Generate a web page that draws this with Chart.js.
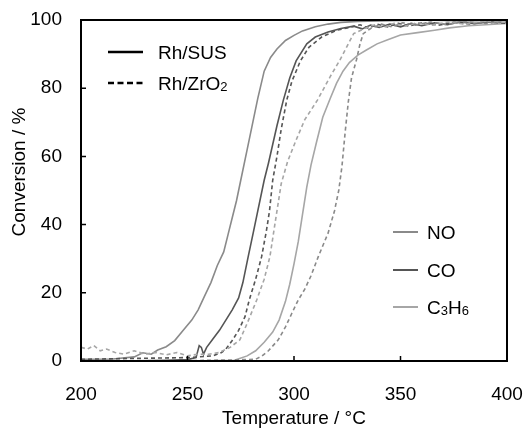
<!DOCTYPE html>
<html lang="en">
<head>
<meta charset="UTF-8">
<title>Conversion vs Temperature</title>
<script src="https://cdn.jsdelivr.net/npm/chart.js"></script>
<style>
  body { margin: 0; background: #fff; }
  canvas { display: block; }
</style>
</head>
<body>
<canvas id="convChart" width="525" height="428"></canvas>
<script>
  // conversion (%) vs temperature (°C)
  const noSusT = [200, 215, 225, 229, 233, 236, 240, 244, 248, 252, 255, 258, 261, 264, 267, 269, 271, 273, 275, 278, 281, 283, 286, 289, 292, 296, 300, 304, 310, 316, 322, 330, 345, 360, 380, 400];
  const noSusY = [0.5, 0.6, 1.2, 2.4, 2, 3.2, 4.2, 6, 9, 12, 15, 19, 23, 28, 32, 37, 42, 47, 53, 62, 71, 77, 85, 89, 91.5, 94, 95.5, 96.8, 98, 98.8, 99.3, 99.6, 99.8, 100, 99.7, 100];

  const coSusT = [200, 220, 240, 250, 254, 255.5, 256.5, 257.5, 259, 262, 265, 268, 271, 274, 276, 278.5, 281, 283, 286, 288, 290, 292, 295, 298, 301, 306, 310, 316, 322, 328, 332, 336, 340, 345, 350, 355, 360, 366, 372, 378, 385, 392, 400];
  const coSusY = [0, 0, 0.2, 0.4, 1, 4.5, 4, 2, 4, 6.5, 9, 12, 15, 18.5, 23, 30.6, 38, 44, 53, 58, 63.5, 69, 76.5, 83, 88, 93, 95, 96.5, 97.5, 98.2, 97.4, 98.5, 97.8, 98.8, 98, 99, 98.3, 99.2, 98.6, 99.4, 98.9, 99.5, 99.2];

  const c3h6SusT = [200, 250, 272, 278, 282, 286, 290, 293, 296, 298, 300, 302, 304, 306, 308, 310.5, 313.5, 317, 320, 323, 326, 330, 334, 339, 344, 350, 358, 366, 373, 382, 390, 400];
  const c3h6SusY = [0, 0, 0.2, 1.5, 3, 5.5, 8.5, 12, 17.5, 22.5, 28.5, 35, 43, 51, 57.5, 64, 71.5, 77, 81.5, 85, 87.5, 89.7, 91.2, 93, 94.2, 95.6, 96.3, 97, 97.7, 98.3, 98.6, 99];

  const noZrT = [200, 240, 270, 282, 285, 288, 292.6, 296, 299, 302, 305, 308, 311.4, 316, 319, 321, 322.5, 324, 325.5, 327, 329.4, 331, 332.5, 336, 341, 346, 351, 357, 364, 371, 380, 390, 400];
  const noZrY = [0, 0, 0.3, 0.5, 1.5, 3, 6.2, 10, 14, 17.9, 21, 25, 30.6, 37.5, 44, 50, 57, 67, 76, 83, 88.5, 93, 96, 97.5, 98.8, 98, 99.2, 98.5, 99.4, 98.7, 99.5, 99, 99.6];

  const coZrT = [200, 230, 250, 262, 266, 268, 271, 274, 277, 279, 282, 284.8, 287, 288.5, 290, 292, 294, 296.6, 299, 303, 307, 313, 320, 326, 331, 335, 339, 344, 349, 354, 360, 368, 375, 383, 390, 400];
  const coZrY = [0.5, 0.8, 1, 1.5, 2.5, 3.5, 6, 9, 13, 17.9, 24, 30.6, 38, 44, 53, 60, 68, 76.5, 82, 88, 92, 95, 97, 97.8, 98.6, 97.6, 98.8, 98, 99, 98.2, 99.2, 98.5, 99.3, 98.8, 99.5, 99];

  const c3h6ZrT = [200, 203, 206, 209, 212, 216, 220, 225, 230, 235, 240, 245, 250, 255, 260, 265, 270, 274.6, 278, 282.5, 286, 288.7, 291, 294, 297, 301, 305, 311, 317, 321.6, 325.5, 328, 333, 338, 342, 347, 352, 358, 365, 372, 380, 390, 400];
  const c3h6ZrY = [4, 3.5, 4.5, 3, 3.5, 2.5, 2, 3, 2, 2.5, 1.8, 2.5, 1.5, 2, 2, 2.5, 4, 6.2, 11, 17.9, 24, 30.6, 40, 52, 58.5, 64.8, 70.7, 76.5, 83.4, 88.3, 93, 96, 97.5, 98.6, 97.8, 99, 98.2, 99.2, 98.5, 99.4, 98.8, 99.6, 99.3];

  const xTicks = [200, 250, 300, 350, 400];
  const yTicks = [0, 20, 40, 60, 80, 100];

  const gasColor = { NO: '#8a8a8a', CO: '#555555', C3H6: '#a6a6a6' };
  const dash = [4, 3];
  const font = '"Liberation Sans", Arial, sans-serif';

  function pts(t, v) {
    return t.map((x, i) => ({ x: x, y: v[i] }));
  }

  function series(t, v, color, dashed) {
    return {
      data: pts(t, v),
      borderColor: color,
      borderWidth: 1.6,
      borderDash: dashed ? dash : [],
      pointRadius: 0,
      tension: 0,
      fill: false
    };
  }

  // draws label text with subscript pieces
  function label(ctx, parts, x, y) {
    parts.forEach(p => {
      ctx.font = p[1] ? '13px ' + font : '19px ' + font;
      ctx.fillText(p[0], x, p[1] ? y + 7.5 : y + 7);
      x += ctx.measureText(p[0]).width;
    });
  }

  const decor = {
    id: 'decor',
    afterDraw(chart) {
      const { ctx, chartArea: a, scales: { x, y } } = chart;
      ctx.save();
      ctx.strokeStyle = '#000';
      ctx.lineWidth = 2;
      ctx.strokeRect(a.left, a.top, a.right - a.left, a.bottom - a.top);

      ctx.lineWidth = 1.5;
      ctx.beginPath();
      xTicks.slice(1, -1).forEach(v => {
        const px = x.getPixelForValue(v);
        ctx.moveTo(px, a.bottom);
        ctx.lineTo(px, a.bottom - 5);
      });
      yTicks.slice(1, -1).forEach(v => {
        const py = y.getPixelForValue(v);
        ctx.moveTo(a.left, py);
        ctx.lineTo(a.left + 5, py);
      });
      ctx.stroke();

      // y axis title
      ctx.fillStyle = '#000';
      ctx.textAlign = 'center';
      ctx.textBaseline = 'middle';
      ctx.font = '19px ' + font;
      ctx.save();
      ctx.translate(20, 172);
      ctx.rotate(-Math.PI / 2);
      ctx.fillText('Conversion / %', 0, 0);
      ctx.restore();

      // catalyst legend
      ctx.textAlign = 'left';
      ctx.textBaseline = 'alphabetic';
      ctx.lineWidth = 2.5;
      ctx.beginPath();
      ctx.moveTo(108, 52);
      ctx.lineTo(143, 52);
      ctx.stroke();
      ctx.setLineDash([6, 3.5]);
      ctx.beginPath();
      ctx.moveTo(108, 83);
      ctx.lineTo(143, 83);
      ctx.stroke();
      ctx.setLineDash([]);
      label(ctx, [['Rh/SUS']], 158, 52);
      label(ctx, [['Rh/ZrO'], ['2', true]], 158, 83);

      // gas legend
      const rows = [
        ['NO', [['NO']], 232],
        ['CO', [['CO']], 270],
        ['C3H6', [['C'], ['3', true], ['H'], ['6', true]], 307]
      ];
      ctx.lineWidth = 2;
      rows.forEach(r => {
        ctx.strokeStyle = gasColor[r[0]];
        ctx.beginPath();
        ctx.moveTo(393, r[2]);
        ctx.lineTo(418, r[2]);
        ctx.stroke();
        label(ctx, r[1], 427, r[2]);
      });
      ctx.restore();
    }
  };

  new Chart(document.getElementById('convChart'), {
    type: 'line',
    data: {
      datasets: [
        series(c3h6ZrT, c3h6ZrY, gasColor.C3H6, true),
        series(noZrT, noZrY, gasColor.NO, true),
        series(coZrT, coZrY, gasColor.CO, true),
        series(c3h6SusT, c3h6SusY, gasColor.C3H6, false),
        series(noSusT, noSusY, gasColor.NO, false),
        series(coSusT, coSusY, gasColor.CO, false)
      ]
    },
    options: {
      responsive: false,
      animation: false,
      devicePixelRatio: 1,
      layout: { padding: { left: 0, right: 18, top: 20, bottom: 0 } },
      plugins: { legend: { display: false }, tooltip: { enabled: false } },
      scales: {
        x: {
          type: 'linear',
          min: 200,
          max: 400,
          afterFit: s => { s.height = 67; s.paddingLeft = 0; s.paddingRight = 0; },
          afterBuildTicks: s => { s.ticks = xTicks.map(v => ({ value: v })); },
          grid: { display: false },
          border: { display: false },
          ticks: { color: '#000', padding: 14, font: { family: font, size: 19 } },
          title: {
            display: true,
            text: 'Temperature / °C',
            color: '#000',
            padding: { top: 0, bottom: -2 },
            font: { family: font, size: 19 }
          }
        },
        y: {
          min: 0,
          max: 100,
          afterFit: s => { s.width = 81; s.paddingTop = 0; s.paddingBottom = 0; },
          afterBuildTicks: s => { s.ticks = yTicks.map(v => ({ value: v })); },
          grid: { display: false },
          border: { display: false },
          ticks: { color: '#000', padding: 11, font: { family: font, size: 19 } }
        }
      }
    },
    plugins: [decor]
  });
</script>
</body>
</html>
